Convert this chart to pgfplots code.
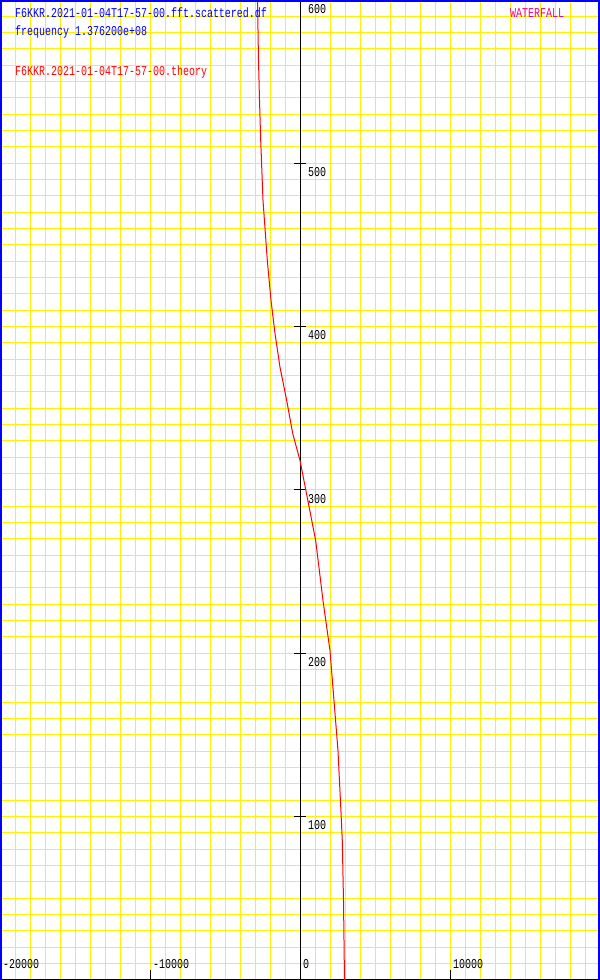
\documentclass[border=0pt]{standalone}
\usepackage{fontspec}
\setmonofont{Liberation Mono}[FakeStretch=0.74]
\usepackage{pgfplots}
\pgfplotsset{compat=1.18}
\newcommand{\pixfont}{\ttfamily\fontsize{13.5bp}{16bp}\selectfont}
\begin{document}
\begin{tikzpicture}
\begin{axis}[
    scale only axis,
    width=600bp, height=980bp,
    xmin=-20000, xmax=20000,
    ymin=0, ymax=600,
    axis lines=middle,
    axis line style={-, black, line width=1bp},
    x axis line style={line width=2bp},
    scaled x ticks=false,
    scaled y ticks=false,
    xtick={-20000,-10000,0,10000},
    xticklabels={-20000,-10000,0,10000},
    ytick={100,200,...,600},
    yticklabels={100,200,300,400,500,600},
    minor xtick={-20000,-19000,...,20000},
    minor ytick={0,10,...,600},
    grid=both,
    major grid style={yellow, line width=1bp},
    minor grid style={yellow, line width=1bp},
    tick align=center,
    major tick length=12bp,
    minor tick length=0pt,
    tick style={black, line width=1bp},
    xtick style={yshift=4bp},
    hide obscured x ticks=false,
    hide obscured y ticks=false,
    ticklabel style={font=\pixfont, inner sep=0pt, text=black},
    xticklabel style={anchor=south west, xshift=3bp, yshift=17bp},
    yticklabel style={anchor=north west, xshift=14bp, yshift=-4bp},
]
% theory curve
\addplot[red, line width=1bp] coordinates {
    (-2833,600) (-2767,563.2) (-2700,538.7) (-2620,514.2) (-2467,477.4)
    (-2180,440.6) (-1933,416.1) (-1667,395.9) (-1333,375.1) (-887,354.8)
    (-487,334.6) (0,318.1) (523,293.6) (1047,269.0) (1533,232.3)
    (2000,201.6) (2267,171.0) (2533,140.3) (2713,106.6) (2820,85.2)
    (2900,48.4) (2967,0)
};

\node[anchor=base west, inner sep=0pt, text=blue, font=\pixfont]
    at (rel axis cs:0.025,0.98163) {F6KKR.2021-01-04T17-57-00.fft.scattered.df};
\node[anchor=base west, inner sep=0pt, text=blue, font=\pixfont]
    at (rel axis cs:0.025,0.96327) {frequency 1.376200e+08};
\node[anchor=base west, inner sep=0pt, text=red, font=\pixfont]
    at (rel axis cs:0.025,0.92245) {F6KKR.2021-01-04T17-57-00.theory};
\node[anchor=base west, inner sep=0pt, text=magenta, font=\pixfont]
    at (rel axis cs:0.85,0.98214) {WATERFALL};
\end{axis}
\draw[blue, line width=4bp] (current axis.south west) -- (current axis.north west)
    -- (current axis.north east) -- (current axis.south east);
\pgfresetboundingbox
\path (current axis.south west) rectangle (current axis.north east);
\end{tikzpicture}
\end{document}
